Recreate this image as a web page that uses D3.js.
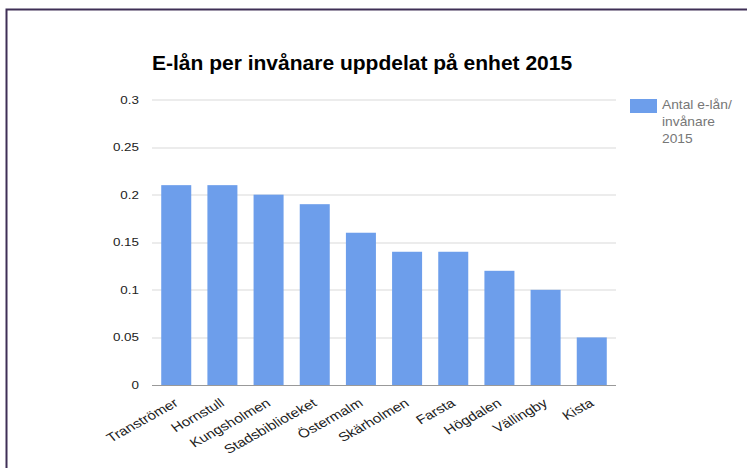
<!DOCTYPE html>
<html>
<head>
<meta charset="utf-8">
<script src="https://cdnjs.cloudflare.com/ajax/libs/d3/7.8.5/d3.min.js"></script>
<style>
  body { margin: 0; background: #fff; }
  text { font-family: Arial, "Liberation Sans", sans-serif; }
</style>
</head>
<body>
<div id="chart"></div>
<script>
// Data
var units = ["Tranströmer", "Hornstull", "Kungsholmen", "Stadsbiblioteket", "Östermalm",
             "Skärholmen", "Farsta", "Högdalen", "Vällingby", "Kista"];
var loans = [0.21, 0.21, 0.20, 0.19, 0.16, 0.14, 0.14, 0.12, 0.10, 0.05];
var yTicks = [0, 0.05, 0.1, 0.15, 0.2, 0.25, 0.3];
var legendLines = ["Antal e-lån/", "invånare", "2015"];

var W = 747, H = 468;
var margin = {top: 99.5, right: 131, bottom: 83, left: 152};
var width = W - margin.left - margin.right;
var height = H - margin.top - margin.bottom;

// the source screenshot is a bit stretched sideways
var stretch = 1.22;

var svg = d3.select("#chart").append("svg")
    .attr("width", W)
    .attr("height", H);

// frame
svg.append("path")
    .attr("d", "M6.5," + H + " V9.5 H" + W)
    .attr("fill", "none")
    .attr("stroke", "#3f2f56")
    .attr("stroke-width", 2);

svg.append("text")
    .attr("x", 152)
    .attr("y", 70)
    .attr("font-size", 21)
    .attr("font-weight", "bold")
    .attr("fill", "#000")
    .text("E-lån per invånare uppdelat på enhet 2015");

var g = svg.append("g")
    .attr("transform", "translate(" + margin.left + "," + margin.top + ")");

var x = d3.scaleBand()
    .domain(units)
    .range([0, width])
    .paddingInner(0.35)
    .paddingOuter(0.2);

var y = d3.scaleLinear()
    .domain([0, 0.3])
    .range([height, 0]);

// gridlines
g.append("g")
    .selectAll("line")
    .data(yTicks.slice(1))
    .enter().append("line")
    .attr("x1", 0)
    .attr("x2", width)
    .attr("y1", function(d) { return Math.round(y(d)) + 0.5; })
    .attr("y2", function(d) { return Math.round(y(d)) + 0.5; })
    .attr("stroke", "#d9d9d9");

// y labels
g.append("g")
    .selectAll("text")
    .data(yTicks)
    .enter().append("text")
    .attr("transform", function(d) {
        return "translate(-13," + (y(d) + 4) + ") scale(" + stretch + ",1)";
    })
    .attr("text-anchor", "end")
    .attr("font-size", 11)
    .attr("fill", "#222")
    .text(function(d) { return d; });

// bars
g.append("g")
    .selectAll("rect")
    .data(loans)
    .enter().append("rect")
    .attr("x", function(d, i) { return x(units[i]); })
    .attr("y", function(d) { return y(d); })
    .attr("width", x.bandwidth())
    .attr("height", function(d) { return height - y(d); })
    .attr("fill", "#6d9eeb");

// baseline
g.append("line")
    .attr("x1", 0)
    .attr("x2", width)
    .attr("y1", height + 0.5)
    .attr("y2", height + 0.5)
    .attr("stroke", "#999");

// x labels
g.append("g")
    .selectAll("text")
    .data(units)
    .enter().append("text")
    .attr("transform", function(d) {
        return "translate(" + (x(d) + x.bandwidth() / 2 + 3) + "," + (height + 20) + ")" +
               " scale(" + stretch + ",1) rotate(-34)";
    })
    .attr("text-anchor", "end")
    .attr("font-size", 12.5)
    .attr("fill", "#222")
    .text(function(d) { return d; });

// legend
var leg = svg.append("g").attr("transform", "translate(630,99)");
leg.append("rect")
    .attr("width", 27)
    .attr("height", 14)
    .attr("fill", "#6d9eeb");
leg.selectAll("text")
    .data(legendLines)
    .enter().append("text")
    .attr("transform", function(d, i) {
        return "translate(32," + (10 + i * 17) + ") scale(1.15,1)";
    })
    .attr("font-size", 12)
    .attr("fill", "#777")
    .text(function(d) { return d; });
</script>
</body>
</html>
